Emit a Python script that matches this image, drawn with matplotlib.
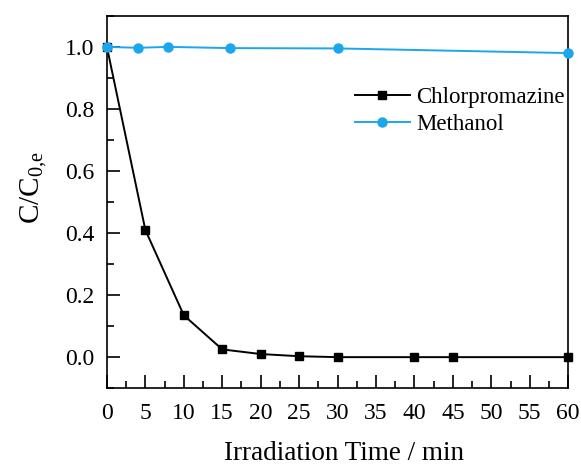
import numpy as np
import matplotlib.pyplot as plt
from matplotlib.ticker import MultipleLocator

plt.rcParams['font.family'] = ['Liberation Serif', 'DejaVu Serif']
plt.rcParams['mathtext.fontset'] = 'custom'
plt.rcParams['mathtext.rm'] = 'Liberation Serif'
plt.rcParams['mathtext.it'] = 'Liberation Serif:italic'

# data
cpz_time = [0, 5, 10, 15, 20, 25, 30, 40, 45, 60]
cpz_ratio = [1.0, 0.41, 0.135, 0.025, 0.01, 0.003, 0.0, 0.0, 0.0, 0.0]
meoh_time = [0, 4, 8, 16, 30, 60]
meoh_ratio = [1.0, 0.997, 1.0, 0.996, 0.995, 0.98]

fig = plt.figure(figsize=(5.81, 4.66), dpi=100)
ax = fig.add_axes([0.184, 0.167, 0.794, 0.799])

ax.plot(cpz_time, cpz_ratio, color='black', marker='s', markersize=6,
        linewidth=1.4, label='Chlorpromazine', clip_on=False, zorder=3)
ax.plot(meoh_time, meoh_ratio, color='#1aa7ec', marker='o', markersize=6.5,
        linewidth=1.4, label='Methanol', clip_on=False, zorder=4)

ax.set_xlim(0, 60)
ax.set_ylim(-0.1, 1.1)
ax.xaxis.set_major_locator(MultipleLocator(5))
ax.xaxis.set_minor_locator(MultipleLocator(2.5))
ax.yaxis.set_major_locator(MultipleLocator(0.2))
ax.yaxis.set_minor_locator(MultipleLocator(0.1))
ax.yaxis.set_major_formatter(plt.FormatStrFormatter('%.1f'))

ax.tick_params(which='both', direction='in', top=False, right=False,
               labelsize=17, width=1.2)
ax.tick_params(which='major', length=9.5)
ax.tick_params(which='minor', length=5)
ax.tick_params(axis='x', pad=11)
ax.tick_params(axis='y', pad=9)
for sp in ax.spines.values():
    sp.set_linewidth(1.2)

ax.set_xlabel('Irradiation Time / min', fontsize=19.5)
ax.set_ylabel(r'C/C$_{\mathrm{0{,}e}}$', fontsize=21)
ax.xaxis.set_label_coords(0.515, -0.143)
ax.yaxis.set_label_coords(-0.125, 0.54)

ax.legend(loc='upper right', bbox_to_anchor=(1.038, 0.864), frameon=False,
          fontsize=16.5, handlelength=2.4, handletextpad=0.3, labelspacing=0.25)

fig.savefig('out.png', dpi=100)
